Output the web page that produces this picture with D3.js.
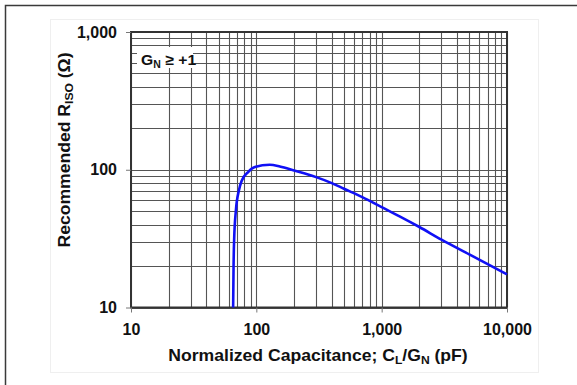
<!DOCTYPE html>
<html><head><meta charset="utf-8">
<script src="https://cdn.jsdelivr.net/npm/d3@7"></script>
<style>body{margin:0;background:#fff}svg{display:block}text{font-family:"Liberation Sans",Arial,sans-serif;font-weight:bold;fill:#111}</style>
</head><body>
<script>
const capacitance = [65.3, 65.8, 66.5, 68.7, 72.6, 76.6, 86, 97.3, 128, 154, 200, 300, 400, 500, 700, 1000, 1390, 2000, 3000, 5000, 10000];
const riso =        [10, 19.7, 30.8, 50.7, 70.8, 83.6, 96.2, 104.5, 108.6, 105.6, 98.8, 88.4, 80.0, 72.8, 63.3, 53.5, 45.9, 38.4, 31.1, 24.3, 17.4];
const xTickValues = [10, 100, 1000, 10000];
const xTickLabels = ["10", "100", "1,000", "10,000"];
const yTickValues = [10, 100, 1000];
const yTickLabels = ["10", "100", "1,000"];

const W = 577, H = 385;
const svg = d3.select("body").append("svg").attr("width", W).attr("height", H);

// outer frame & faint panel
svg.append("rect").attr("x", 5.5).attr("y", 5.5).attr("width", 700).attr("height", 500)
  .attr("fill", "none").attr("stroke", "#3a3a3a").attr("stroke-width", 1.5);
svg.append("rect").attr("x", 50.5).attr("y", 19.5).attr("width", 488).attr("height", 353)
  .attr("fill", "none").attr("stroke", "#efefef").attr("stroke-width", 1);

const x = d3.scaleLog().domain([10, 10000]).range([131, 507]);
const y = d3.scaleLog().domain([10, 1000]).range([307.5, 32]);

const gridX = [], gridY = [];
for (let d = 10; d < 10000; d *= 10) for (let k = 1; k <= 9; k++) gridX.push(d * k);
gridX.push(10000);
for (let d = 10; d < 1000; d *= 10) for (let k = 1; k <= 9; k++) gridY.push(d * k);
gridY.push(1000);

const g = svg.append("g");
g.selectAll("line.gx").data(gridX).join("line")
  .attr("x1", d => Math.round(x(d)) + 0.5).attr("x2", d => Math.round(x(d)) + 0.5)
  .attr("y1", y(1000)).attr("y2", y(10))
  .attr("stroke", "#555").attr("stroke-width", 1.1);
g.selectAll("line.gy").data(gridY).join("line")
  .attr("y1", d => Math.round(y(d)) + 0.5).attr("y2", d => Math.round(y(d)) + 0.5)
  .attr("x1", x(10)).attr("x2", x(10000))
  .attr("stroke", "#555").attr("stroke-width", 1.1);

svg.append("rect").attr("x", x(10)).attr("y", y(1000)).attr("width", x(10000) - x(10)).attr("height", y(10) - y(1000))
  .attr("fill", "none").attr("stroke", "#333").attr("stroke-width", 2);

const xAxis = d3.axisBottom(x).tickValues(xTickValues).tickSize(5).tickPadding(11)
  .tickFormat((d, i) => xTickLabels[i]);
const gx = svg.append("g").attr("transform", `translate(0,${y(10)})`).call(xAxis);
gx.select(".domain").remove();
gx.selectAll(".tick line").attr("stroke", "#777");
gx.selectAll(".tick text").attr("font-size", 16).attr("fill", "#111")
  .attr("font-family", '"Liberation Sans",Arial,sans-serif').attr("font-weight", "bold");

const yAxis = d3.axisLeft(y).tickValues(yTickValues).tickSize(5).tickPadding(9)
  .tickFormat((d, i) => yTickLabels[i]);
const gy = svg.append("g").attr("transform", `translate(${x(10)},0)`).call(yAxis);
gy.select(".domain").remove();
gy.selectAll(".tick line").attr("stroke", "#777");
gy.selectAll(".tick text").attr("font-size", 16).attr("fill", "#111")
  .attr("font-family", '"Liberation Sans",Arial,sans-serif').attr("font-weight", "bold");

const pts = capacitance.map((c, i) => [c, riso[i]]);
const line = d3.line().x(d => x(d[0])).y(d => y(d[1])).curve(d3.curveMonotoneX);
svg.append("path").attr("d", line(pts)).attr("fill", "none")
  .attr("stroke", "#1010f5").attr("stroke-width", 2.6);

// legend
svg.append("rect").attr("x", 137).attr("y", 47).attr("width", 56).attr("height", 21).attr("fill", "#fff");
const lt = svg.append("text").attr("transform", "translate(141,65) scale(1.05,1)").attr("font-size", 15);
lt.append("tspan").text("G");
lt.append("tspan").attr("font-size", 10).attr("dy", 3).text("N");
lt.append("tspan").attr("dy", -3).text(" \u2265 +1");

// x title
const xt = svg.append("text").attr("transform", "translate(318,361) scale(1.1,1)")
  .attr("text-anchor", "middle").attr("font-size", 16);
xt.append("tspan").text("Normalized Capacitance; C");
xt.append("tspan").attr("font-size", 11).attr("dy", 3).text("L");
xt.append("tspan").attr("dy", -3).text("/G");
xt.append("tspan").attr("font-size", 11).attr("dy", 3).text("N");
xt.append("tspan").attr("dy", -3).text(" (pF)");

// y title
const yt = svg.append("text").attr("transform", "translate(70,150) rotate(-90) scale(1.1,1)")
  .attr("text-anchor", "middle").attr("font-size", 16);
yt.append("tspan").text("Recommended R");
yt.append("tspan").attr("font-size", 11).attr("dy", 3).text("ISO");
yt.append("tspan").attr("dy", -3).text(" (\u03A9)");
</script>
</body></html>
